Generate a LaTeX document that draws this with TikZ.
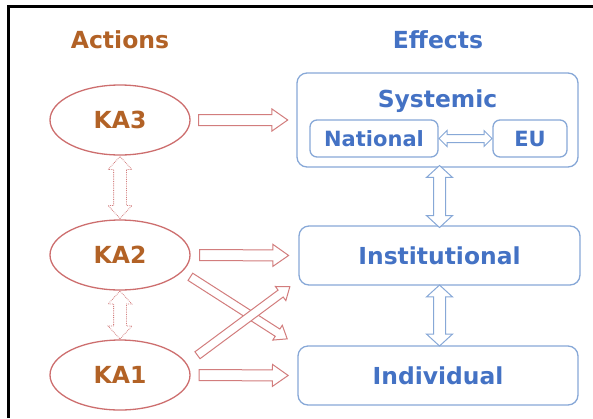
\documentclass[tikz,border=0pt]{standalone}
\usepackage{fontspec}
\setmainfont{DejaVu Sans}
\usetikzlibrary{shapes.geometric, shapes.arrows}

\definecolor{actbrown}{RGB}{178,98,38}
\definecolor{actred}{RGB}{205,110,110}
\definecolor{arrred}{RGB}{210,125,125}
\definecolor{effblue}{RGB}{68,114,196}
\definecolor{effline}{RGB}{135,168,215}

\tikzset{
    titletext/.style={font=\fontsize{23.5}{23.5}\selectfont\bfseries},
    action/.style={ellipse, draw=actred, line width=1.3pt, minimum width=140pt, minimum height=70pt,
        text=actbrown, font=\fontsize{23.5}{23.5}\selectfont\bfseries},
    effect/.style={rectangle, rounded corners=10pt, draw=effline, line width=1.3pt,
        text=effblue, font=\fontsize{23.4}{23.4}\selectfont\bfseries},
    subeffect/.style={effect, rounded corners=7pt, minimum height=37pt, font=\fontsize{21}{21}\selectfont\bfseries},
    % block arrows, #1 = length
    redarrow/.style={single arrow, sloped, draw=arrred, fill=white, line width=1pt, inner sep=0pt,
        inner ysep=5pt, single arrow head extend=5.5pt, single arrow tip angle=70, minimum height=#1},
    crossarrow/.style={redarrow=#1, inner ysep=3.8pt, single arrow head extend=4.5pt, single arrow tip angle=75},
    dotarrow/.style={double arrow, sloped, draw=arrred, densely dotted, fill=white, line width=0.8pt, inner sep=0pt,
        inner ysep=6pt, double arrow head extend=5.5pt, double arrow tip angle=85, minimum height=#1},
    bluearrow/.style={double arrow, sloped, draw=effline, fill=white, line width=1pt, inner sep=0pt,
        inner ysep=5.5pt, double arrow head extend=7pt, double arrow tip angle=95, minimum height=#1},
}

\begin{document}
\begin{tikzpicture}[x=1pt, y=-1pt]
    \useasboundingbox (0,0) rectangle (593,418);
    % Frame
    \draw[line width=3pt] (8.5,418) -- (8.5,6) -- (593,6);

    % Column titles
    \node[titletext, text=actbrown] (actions) at (120,40) {Actions};
    \node[titletext, text=effblue] (effects) at (438,40) {Effects};

    % Actions
    \node[action] (KA3) at (120,120) {KA3};
    \node[action] (KA2) at (120,255) {KA2};
    \node[action] (KA1) at (120,375) {KA1};

    % Effects
    \node[effect, minimum width=281pt, minimum height=94pt,
        label={[effect, draw=none, anchor=north, yshift=-13pt]north:Systemic}]
        (Systemic) at (437.5,120) {};
    \node[subeffect, minimum width=128pt] (National) at (374,138.5) {National};
    \node[subeffect, minimum width=74pt] (EU) at (530,138.5) {EU};
    \node[effect, minimum width=281pt, minimum height=59pt] (Institutional) at (439.5,255.5) {Institutional};
    \node[effect, minimum width=280pt, minimum height=59pt] (Individual) at (438,375.5) {Individual};

    % Arrows between the columns
    \foreach \a/\e in {KA3/Systemic, KA2/Institutional, KA1/Individual} {
        \path (\a.east) -- (\e.west) node[redarrow=89pt, pos=0.46] {};
    }
    \path (KA2.-15) -- (Individual.north west) node[crossarrow=115pt, pos=0.47] {};
    \path (KA1.10) -- (Institutional.-170) node[crossarrow=115pt, pos=0.49] {};

    % Arrows within the columns
    \path (KA3.south) -- (KA2.north) node[dotarrow=62pt, midway] {};
    \path (KA2.south) -- (KA1.north) node[dotarrow=48pt, midway] {};
    \path (Institutional.north |- Systemic.south) -- (Institutional.north) node[bluearrow=62pt, midway] {};
    \path (Institutional.south) -- (Institutional.south |- Individual.north) node[bluearrow=61pt, midway] {};
    \path (National.east) -- (EU.west) node[bluearrow=53pt, midway, inner ysep=3.5pt,
        double arrow head extend=4pt, double arrow tip angle=90] {};
\end{tikzpicture}
\end{document}
